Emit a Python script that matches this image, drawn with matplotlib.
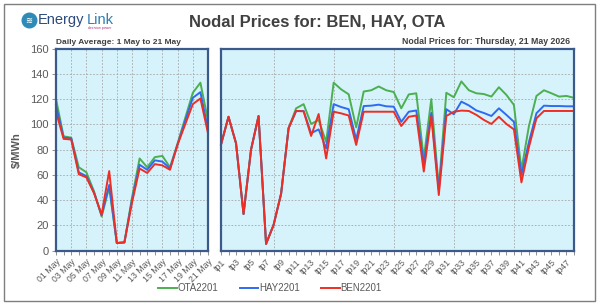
"""Nodal prices chart: daily averages (left) and trading periods for one day (right)."""

import matplotlib.pyplot as plt
from matplotlib.lines import Line2D
from matplotlib.patches import Rectangle

plt.rcParams["font.family"] = ["Liberation Sans Narrow", "Liberation Sans", "DejaVu Sans"]

# ---- data ----
days = [f"{d:02d} May" for d in range(1, 22)]
daily_ota = [120, 90.5, 89.5, 66, 62, 47, 27, 50, 6, 6.5, 42, 73, 66, 74, 75, 66, 85, 105, 125, 133, 103]
daily_hay = [115, 89.5, 89, 62, 59, 46, 28, 52, 6, 6.5, 40, 68, 64, 71.5, 70.5, 65, 84, 103, 121, 125.5, 96]
daily_ben = [110, 88.5, 88, 60.5, 58, 45.5, 28.5, 63, 6, 6.5, 38, 65, 61.5, 68.5, 67.5, 64, 84, 100, 116, 120.5, 93]

periods = [f"tp{i}" for i in range(1, 49)]
tp_ben = [84, 106, 85, 29, 80, 106.6, 5.3, 20.3, 45, 97,
          110.6, 110.3, 90.8, 108.2, 73, 110, 108.7, 107, 83.7, 110,
          110, 110, 110, 110, 98.7, 106, 107, 62.6, 106.6, 44,
          106.6, 110, 110.9, 110.6, 107.5, 103.5, 100.3, 106, 100.3, 96,
          54, 82, 104.8, 110.6, 110.6, 110.6, 110.6, 110.6]
tp_hay = [84, 106, 85, 29, 80, 106.6, 5.3, 20.3, 45, 97,
          110.6, 110.6, 93, 96, 81, 116, 113.7, 112, 88, 114.5,
          114.8, 115.6, 114.3, 114, 102, 110, 111, 68.6, 109, 48,
          112, 108, 118, 115, 111, 109, 106.6, 112.7, 107.5, 102,
          60, 86, 108.8, 114.8, 114.5, 114.5, 114.3, 114.3]
tp_ota = [84, 106, 85, 29, 80, 106.6, 5.3, 20.3, 45, 97,
          112.7, 116, 100.3, 103.5, 86, 133, 127.7, 123.8, 97.6, 126,
          127, 130, 127, 125.6, 112.7, 123.7, 124.6, 73, 120, 50,
          125, 121.5, 134, 127, 124.6, 124, 122, 129.4, 123.3, 115.4,
          64, 98.7, 122.5, 127, 124.6, 122, 122.5, 121]

series_names = ["OTA2201", "HAY2201", "BEN2201"]
colors = ["#4CAF50", "#2F6BF2", "#EE2E24"]

FRAME = "#3B5A8A"
BG = "#D6F3FC"
TXT = "#595959"

fig = plt.figure(figsize=(6.0, 3.03), dpi=100)
fig.patch.set_facecolor("white")

# outer frame
fig.add_artist(Rectangle((4 / 600, 1 - 301 / 303), 591 / 600, 297 / 303,
                         transform=fig.transFigure, fill=False,
                         edgecolor="#7F7F7F", linewidth=1.0))

# logo
fig.add_artist(Line2D([28.5 / 600], [1 - 20 / 303], marker="o", markersize=10.5,
                      color="#2E8BB8", transform=fig.transFigure))
fig.text(28.5 / 600, 1 - 20.5 / 303, "≋", ha="center", va="center", color="white",
         fontsize=6, fontweight="bold", family="DejaVu Sans")
fig.text(38 / 600, 1 - 20 / 303, "Energy", ha="left", va="center", fontsize=10.5,
         color="#2C4A7A", family="Liberation Sans")
fig.text(87 / 600, 1 - 20 / 303, "Link", ha="left", va="center", fontsize=10.5,
         color="#2E7DB3", family="Liberation Sans")
fig.text(88 / 600, 1 - 28 / 303, "decision power", ha="left", va="center", fontsize=2.5,
         color="#B0307A")

fig.text(317.5 / 600, 1 - 22 / 303, "Nodal Prices for: BEN, HAY, OTA", ha="center",
         va="center", fontsize=12, fontweight="bold", color="#404040")

ax_l = fig.add_axes((56 / 600, 1 - 250.6 / 303, 152 / 600, 202 / 303))
ax_r = fig.add_axes((221 / 600, 1 - 250.6 / 303, 353 / 600, 202 / 303))


def style_axes(ax, n, labels, grid_pos, show_y):
    ax.set_facecolor(BG)
    ax.set_xlim(0, n - 1)
    ax.set_ylim(0, 160)
    ax.set_yticks(range(0, 161, 20))
    ax.grid(axis="y", color="#A6A6A6", linestyle=(0, (2, 2)), linewidth=0.6)
    for g in grid_pos:
        ax.axvline(g, color="#A6A6A6", linestyle=(0, (2, 2)), linewidth=0.6, zorder=0.5)
    ax.set_xticks(range(n))
    ax.set_xticklabels([lab if i % 2 == 0 else "" for i, lab in enumerate(labels)],
                       rotation=45, ha="right", rotation_mode="anchor",
                       fontsize=6.3, color=TXT)
    ax.tick_params(axis="x", length=3, width=0.6, color="#7F7F7F", pad=2)
    if show_y:
        ax.tick_params(axis="y", length=3, width=0.6, color="#7F7F7F", labelsize=8,
                       labelcolor=TXT, pad=2)
    else:
        ax.tick_params(axis="y", length=0, labelleft=False)
    for sp in ax.spines.values():
        sp.set_color(FRAME)
        sp.set_linewidth(1.6)
    ax.set_axisbelow(True)


style_axes(ax_l, len(days), days, range(2, 20, 2), True)
style_axes(ax_r, len(periods), periods, range(7, 47, 8), False)

x_l = range(len(days))
x_r = range(len(periods))
for vals, name, col in zip([daily_ota, daily_hay, daily_ben], series_names, colors):
    ax_l.plot(x_l, vals, color=col, linewidth=1.4, label=name, clip_on=False)
for vals, col in zip([tp_ota, tp_hay, tp_ben], colors):
    ax_r.plot(x_r, vals, color=col, linewidth=1.4, clip_on=False)

ax_l.set_ylabel("$/MWh", fontsize=8, fontweight="bold", color=TXT, labelpad=6)

fig.text(56 / 600, 1 - 42 / 303, "Daily Average: 1 May to 21 May", ha="left", va="center",
         fontsize=6, fontweight="bold", color="#404040")
fig.text(570 / 600, 1 - 42 / 303, "Nodal Prices for: Thursday, 21 May 2026", ha="right",
         va="center", fontsize=6.3, fontweight="bold", color="#404040")

fig.legend(loc="center", bbox_to_anchor=(270 / 600, 1 - 288 / 303), ncol=3, frameon=False,
           fontsize=7, handlelength=1.9, handletextpad=0.1, columnspacing=2.2,
           labelcolor=TXT)

fig.savefig("out.png", dpi=100)
